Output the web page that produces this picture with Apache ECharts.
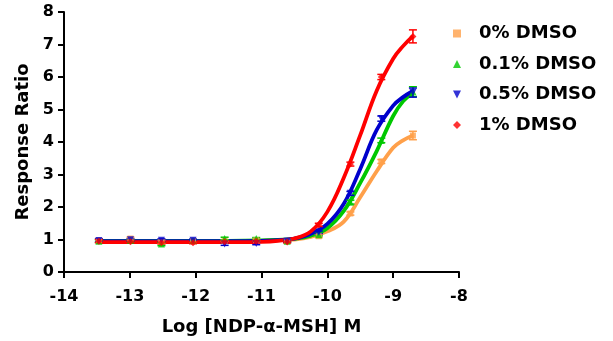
<!DOCTYPE html>
<html><head><meta charset="utf-8">
<script src="https://cdn.jsdelivr.net/npm/echarts@6/dist/echarts.min.js"></script>
<style>html,body{margin:0;padding:0;background:#fff}#c{width:613px;height:341px}</style>
</head><body><div id="c"></div>
<script>
const seriesNames = ['0% DMSO', '0.1% DMSO', '0.5% DMSO', '1% DMSO'];
const colors = ['#FFA04A', '#00C800', '#0000CC', '#FF0000'];
const logDose = [-13.47, -12.99, -12.52, -12.04, -11.56, -11.08, -10.61, -10.13, -9.65, -9.18, -8.70];
const resp0 = [0.97, 1.03, 0.93, 0.96, 0.96, 0.98, 0.95, 1.10, 1.80, 3.40, 4.20];
const resp01 = [0.95, 0.97, 0.86, 0.97, 1.03, 1.03, 0.95, 1.15, 2.15, 4.05, 5.55];
const resp05 = [0.97, 0.99, 0.98, 0.98, 0.86, 0.88, 0.95, 1.22, 2.42, 4.72, 5.52];
const resp1 = [0.95, 0.93, 0.90, 0.90, 0.93, 0.95, 0.92, 1.45, 3.32, 6.00, 7.25];
const err0 = [0.05, 0.04, 0.05, 0.03, 0.03, 0.03, 0.03, 0.04, 0.05, 0.06, 0.13];
const err01 = [0.04, 0.03, 0.05, 0.03, 0.04, 0.03, 0.03, 0.04, 0.06, 0.07, 0.15];
const err05 = [0.05, 0.03, 0.04, 0.03, 0.04, 0.04, 0.03, 0.04, 0.06, 0.08, 0.14];
const err1 = [0.05, 0.04, 0.04, 0.03, 0.03, 0.03, 0.03, 0.05, 0.06, 0.08, 0.20];
const fitX = [-13.5, -13, -12.5, -12, -11.5, -11, -10.75, -10.5, -10.25, -10, -9.75, -9.5, -9.25, -9, -8.85, -8.7];
const fit0 = [0.95, 0.95, 0.95, 0.95, 0.95, 0.96, 0.98, 1.00, 1.08, 1.25, 1.55, 2.30, 3.10, 3.82, 4.05, 4.20];
const fit01 = [0.96, 0.96, 0.96, 0.96, 0.96, 0.97, 0.99, 1.02, 1.12, 1.35, 1.88, 2.74, 3.72, 4.80, 5.25, 5.50];
const fit05 = [0.95, 0.95, 0.95, 0.95, 0.95, 0.96, 0.98, 1.03, 1.18, 1.48, 2.10, 3.17, 4.37, 5.12, 5.38, 5.57];
const fit1 = [0.92, 0.92, 0.92, 0.92, 0.92, 0.93, 0.96, 1.03, 1.25, 1.85, 2.90, 4.21, 5.58, 6.56, 6.95, 7.26];
const xTicks = [-14, -13, -12, -11, -10, -9, -8];
const yTicks = [0, 1, 2, 3, 4, 5, 6, 7, 8];

const respAll = [resp0, resp01, resp05, resp1];
const errAll = [err0, err01, err05, err1];
const fitAll = [fit0, fit01, fit05, fit1];
const symbols = ['rect', 'triangle', 'path://M0,0 L10,0 L5,10 Z', 'diamond'];
const symSizes = [6, 7, 7, 7];
const FONT = 'DejaVu Sans';

const series = [];
fitAll.forEach((f, i) => {
  series.push({
    name: seriesNames[i] + ' fit', type: 'line', smooth: 0.4, showSymbol: false, z: 2 + i,
    data: fitX.map((x, k) => [x, f[k]]),
    lineStyle: {color: colors[i], width: 3.8}, silent: true
  });
});
errAll.forEach((e, i) => {
  series.push({
    name: seriesNames[i] + ' err', type: 'custom', z: 10 + i, silent: true,
    data: logDose.map((x, k) => [x, respAll[i][k] - e[k], respAll[i][k] + e[k]]),
    renderItem: (params, api) => {
      const lo = api.coord([api.value(0), api.value(1)]);
      const hi = api.coord([api.value(0), api.value(2)]);
      const w = 4;
      return {type: 'group', children: [
        {type: 'line', shape: {x1: lo[0], y1: lo[1], x2: hi[0], y2: hi[1]}, style: {stroke: colors[i], lineWidth: 1.5}},
        {type: 'line', shape: {x1: lo[0] - w, y1: lo[1], x2: lo[0] + w, y2: lo[1]}, style: {stroke: colors[i], lineWidth: 1.5}},
        {type: 'line', shape: {x1: hi[0] - w, y1: hi[1], x2: hi[0] + w, y2: hi[1]}, style: {stroke: colors[i], lineWidth: 1.5}}
      ]};
    }
  });
});
respAll.forEach((r, i) => {
  series.push({
    name: seriesNames[i], type: 'scatter', z: 20 + i,
    symbol: symbols[i], symbolSize: symSizes[i],
    data: logDose.map((x, k) => [x, r[k]]),
    itemStyle: {color: colors[i]}
  });
});

const chart = echarts.init(document.getElementById('c'));
chart.setOption({
  animation: false,
  backgroundColor: '#fff',
  grid: {left: 64, right: 154, top: 12, bottom: 69},
  legend: {
    orient: 'vertical', left: 448, top: 18, itemWidth: 8, itemHeight: 8, itemGap: 9.5,
    data: seriesNames.map((n, i) => ({name: n, icon: symbols[i]})),
    textStyle: {fontFamily: FONT, fontWeight: 'bold', fontSize: 18, color: '#000', lineHeight: 21, padding: [0, 0, 0, 13]},
    selectedMode: false
  },
  xAxis: {
    type: 'value', min: -14, max: -8, interval: 1,
    name: 'Log [NDP-α-MSH] M', nameLocation: 'middle', nameGap: 46,
    nameTextStyle: {fontFamily: FONT, fontWeight: 'bold', fontSize: 18, color: '#000'},
    axisLine: {show: true, onZero: false, lineStyle: {color: '#000', width: 2}},
    axisTick: {show: true, length: 6, lineStyle: {color: '#000', width: 2}},
    axisLabel: {fontFamily: FONT, fontWeight: 'bold', fontSize: 16, color: '#000', margin: 17,
      formatter: v => xTicks.includes(v) ? String(v) : ''},
    splitLine: {show: false}
  },
  yAxis: {
    type: 'value', min: 0, max: 8, interval: 1,
    name: 'Response Ratio', nameLocation: 'middle', nameGap: 28,
    nameTextStyle: {fontFamily: FONT, fontWeight: 'bold', fontSize: 18, color: '#000'},
    axisLine: {show: true, onZero: false, lineStyle: {color: '#000', width: 2}},
    axisTick: {show: true, length: 6, lineStyle: {color: '#000', width: 2}},
    axisLabel: {fontFamily: FONT, fontWeight: 'bold', fontSize: 16, color: '#000', margin: 10,
      formatter: v => yTicks.includes(v) ? String(v) : ''},
    splitLine: {show: false}
  },
  series: series
});
</script></body></html>
